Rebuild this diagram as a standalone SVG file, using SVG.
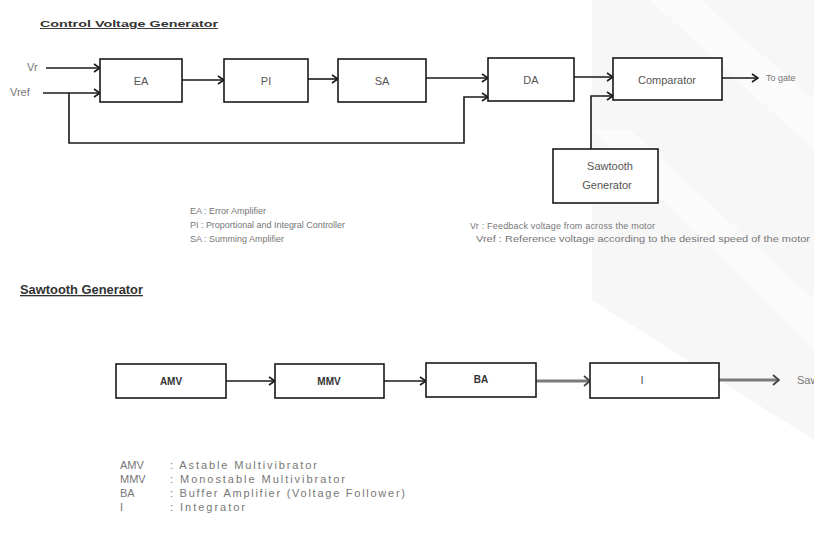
<svg xmlns="http://www.w3.org/2000/svg" width="814" height="533" viewBox="0 0 814 533">
<style>
.box{fill:#fff;stroke:#1a1a1a;stroke-width:1.6}
.ln{fill:none;stroke:#1a1a1a;stroke-width:1.6}
.lg{fill:none;stroke:#7a7a7a;stroke-width:3}
.lbl{font-family:"Liberation Sans",Arial,sans-serif;font-size:11px;fill:#555;text-anchor:middle}
.blb{font-family:"Liberation Sans",Arial,sans-serif;font-size:10px;font-weight:bold;fill:#333;text-anchor:middle}
.leg{font-family:"Liberation Sans",Arial,sans-serif;font-size:9px;fill:#777}
.leg2{font-family:"Liberation Sans",Arial,sans-serif;font-size:11px;fill:#777}
.ttl{font-family:"Liberation Sans",Arial,sans-serif;font-weight:bold;fill:#333;text-decoration:underline}
</style>
<defs>
<marker id="ah" markerWidth="8" markerHeight="10" refX="7" refY="5" orient="auto" markerUnits="userSpaceOnUse">
<path d="M1,1 L7,5 L1,9" fill="none" stroke="#1a1a1a" stroke-width="1.6"/>
</marker>
<marker id="ahg" markerWidth="8" markerHeight="12" refX="7" refY="6" orient="auto" markerUnits="userSpaceOnUse">
<path d="M1,1 L7,6 L1,11" fill="none" stroke="#444" stroke-width="1.8"/>
</marker>
</defs>
<rect width="814" height="533" fill="#fff"/>
<g id="watermark">
<polygon points="592,0 814,0 814,440 592,440" fill="#f7f7f8"/>
<polygon points="650,0 700,0 814,100 814,150" fill="#fbfbfc"/>
<polygon points="592,130 630,130 814,300 814,350" fill="#fbfbfc"/>
<polygon points="592,300 814,440 814,533 592,533" fill="#fff"/>
</g>
<text class="ttl" x="40" y="27" font-size="9.5" textLength="178" lengthAdjust="spacingAndGlyphs">Control Voltage Generator</text>
<g id="connectors">
<line class="ln" x1="46" y1="68" x2="100" y2="68" marker-end="url(#ah)"/>
<line class="ln" x1="43" y1="93" x2="100" y2="93" marker-end="url(#ah)"/>
<polyline class="ln" points="69,93 69,143 464,143 464,97 488,97" marker-end="url(#ah)"/>
<line class="ln" x1="182" y1="80" x2="224" y2="80" marker-end="url(#ah)"/>
<line class="ln" x1="308" y1="79" x2="338" y2="79" marker-end="url(#ah)"/>
<line class="ln" x1="426" y1="78" x2="488" y2="78" marker-end="url(#ah)"/>
<line class="ln" x1="574" y1="77" x2="613" y2="77" marker-end="url(#ah)"/>
<polyline class="ln" points="591,149 591,96 613,96" marker-end="url(#ah)"/>
<line class="ln" x1="722" y1="78" x2="758" y2="78" stroke-width="1.2" marker-end="url(#ah)"/>
<line class="ln" x1="226" y1="381" x2="275" y2="381" marker-end="url(#ah)"/>
<line class="ln" x1="384" y1="381" x2="426" y2="381" marker-end="url(#ah)"/>
<line class="lg" x1="536" y1="381" x2="590" y2="381" marker-end="url(#ahg)"/>
<line class="lg" x1="719" y1="380" x2="779" y2="380" marker-end="url(#ahg)"/>
</g>
<text class="leg2" x="27" y="71" font-size="10" fill="#444">Vr</text>
<text class="leg2" x="10" y="96" font-size="10" fill="#444">Vref</text>
<g id="EA"><rect class="box" x="100" y="59" width="82" height="43"/><text class="lbl" x="141" y="85">EA</text></g>
<g id="PI"><rect class="box" x="224" y="59" width="84" height="43"/><text class="lbl" x="266" y="85">PI</text></g>
<g id="SA"><rect class="box" x="338" y="59" width="88" height="43"/><text class="lbl" x="382" y="85">SA</text></g>
<g id="DA"><rect class="box" x="488" y="58" width="86" height="43"/><text class="lbl" x="531" y="84">DA</text></g>
<g id="Comparator"><rect class="box" x="613" y="58" width="109" height="42"/><text class="lbl" x="667" y="84" font-size="13" fill="#444">Comparator</text></g>
<text class="leg" x="766" y="81" font-size="8.5" fill="#666">To gate</text>
<g id="SawtoothGenBox"><rect class="box" x="553" y="149" width="105" height="54"/>
<text class="lbl" x="610" y="170" font-size="12" fill="#555">Sawtooth</text>
<text class="lbl" x="607" y="189" font-size="11" fill="#666">Generator</text></g>
<text class="leg" x="190" y="214">EA : Error Amplifier</text>
<text class="leg" x="190" y="228" textLength="155">PI : Proportional and Integral Controller</text>
<text class="leg" x="190" y="242">SA : Summing Amplifier</text>
<text class="leg" x="470" y="229" textLength="185">Vr : Feedback voltage from across the motor</text>
<text class="leg" x="476" y="242" textLength="334" lengthAdjust="spacingAndGlyphs">Vref : Reference voltage according to the desired speed of the motor</text>
<text class="ttl" x="20" y="294" font-size="13" textLength="123" lengthAdjust="spacingAndGlyphs">Sawtooth Generator</text>
<g id="AMV"><rect class="box" x="116" y="364" width="110" height="34"/><text class="blb" x="171" y="385">AMV</text></g>
<g id="MMV"><rect class="box" x="275" y="364" width="109" height="34"/><text class="blb" x="329" y="385">MMV</text></g>
<g id="BA"><rect class="box" x="426" y="363" width="110" height="34"/><text class="blb" x="481" y="383">BA</text></g>
<g id="I"><rect class="box" x="590" y="363" width="129" height="35"/><text class="lbl" x="642" y="384" fill="#777">I</text></g>
<text class="leg2" x="797" y="384" font-size="9">Sawtooth</text>
<text class="leg2" x="120" y="469">AMV</text><text class="leg2" x="170" y="469" textLength="147">: Astable Multivibrator</text>
<text class="leg2" x="120" y="483">MMV</text><text class="leg2" x="170" y="483" textLength="175">: Monostable Multivibrator</text>
<text class="leg2" x="120" y="497">BA</text><text class="leg2" x="170" y="497" textLength="235">: Buffer Amplifier (Voltage Follower)</text>
<text class="leg2" x="120" y="511">I</text><text class="leg2" x="170" y="511" textLength="75">: Integrator</text>
</svg>
